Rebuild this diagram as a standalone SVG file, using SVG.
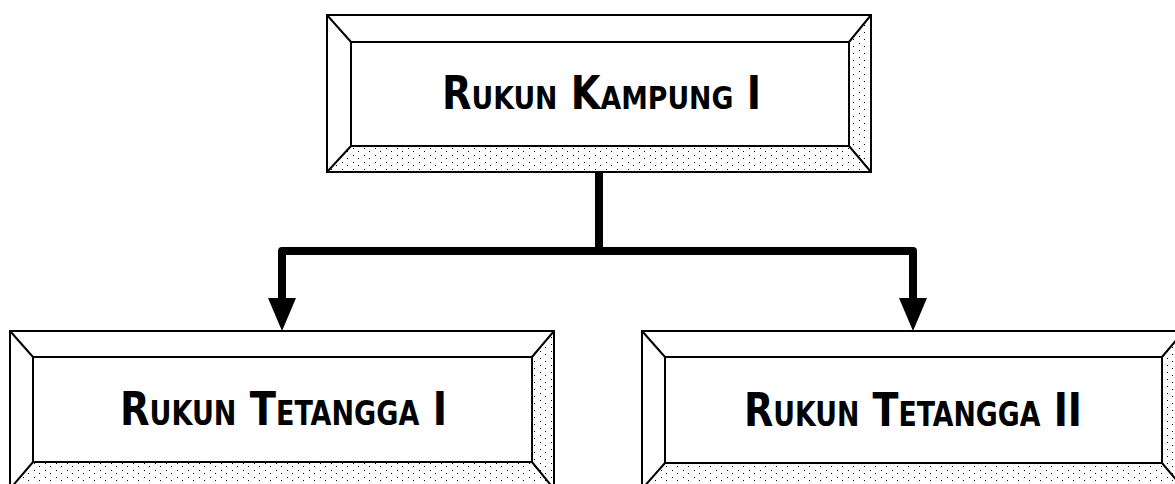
<svg xmlns="http://www.w3.org/2000/svg" width="1175" height="484" viewBox="0 0 1175 484">
<style>
.frame{fill:none;stroke:#000;stroke-width:2}
.shade{fill:url(#dots)}
.lbl{font-family:"DejaVu Sans Condensed","DejaVu Sans","Liberation Sans",sans-serif;font-weight:bold;font-variant:small-caps;fill:#000;text-anchor:start}
.conn{fill:none;stroke:#000;stroke-width:8;stroke-linejoin:round}
</style>
<defs>
<pattern id="dots" width="11" height="7" patternUnits="userSpaceOnUse">
<rect width="11" height="7" fill="#fff"/>
<rect x="1" y="1" width="1" height="1" fill="#000"/>
<rect x="6" y="4" width="1" height="1" fill="#000"/>
</pattern>
<marker id="arrow" markerUnits="userSpaceOnUse" markerWidth="34" markerHeight="30" viewBox="0 -15 34 30" refX="0" refY="0" orient="auto">
<path d="M0,-14 L33,0 L0,14 Z" fill="#000"/>
</marker>
</defs>
<rect width="1175" height="484" fill="#fff"/>

<g id="rk1">
<polygon class="shade" points="351,146 849,146 871,172 327,172"/>
<polygon class="shade" points="849,42 871,15 871,172 849,146"/>
<rect class="frame" x="327" y="15" width="544" height="157"/>
<rect class="frame" x="351" y="42" width="498" height="104"/>
<path class="frame" d="M327,15 L351,42 M871,15 L849,42 M327,172 L351,146 M871,172 L849,146"/>
<text class="lbl" x="442" y="109" font-size="46" textLength="319" lengthAdjust="spacingAndGlyphs">Rukun Kampung I</text>
</g>

<g id="rt1">
<polygon class="shade" points="33,462 532,462 554,489 10,489"/>
<polygon class="shade" points="532,357 554,331 554,489 532,462"/>
<rect class="frame" x="10" y="331" width="544" height="158"/>
<rect class="frame" x="33" y="357" width="499" height="105"/>
<path class="frame" d="M10,331 L33,357 M554,331 L532,357 M10,489 L33,462 M554,489 L532,462"/>
<text class="lbl" x="120" y="425" font-size="47" textLength="327" lengthAdjust="spacingAndGlyphs">Rukun Tetangga I</text>
</g>

<g id="rt2">
<polygon class="shade" points="665,463 1162,463 1184,489 642,489"/>
<polygon class="shade" points="1162,357 1184,331 1184,489 1162,463"/>
<rect class="frame" x="642" y="331" width="542" height="158"/>
<rect class="frame" x="665" y="357" width="497" height="106"/>
<path class="frame" d="M642,331 L665,357 M1184,331 L1162,357 M642,489 L665,463 M1184,489 L1162,463"/>
<text class="lbl" x="744" y="426" font-size="47" textLength="338" lengthAdjust="spacingAndGlyphs">Rukun Tetangga II</text>
</g>

<g id="connectors">
<path class="conn" d="M599,172 V251 H282 V298" marker-end="url(#arrow)"/>
<path class="conn" d="M599,251 H913 V298" marker-end="url(#arrow)"/>
</g>
</svg>
